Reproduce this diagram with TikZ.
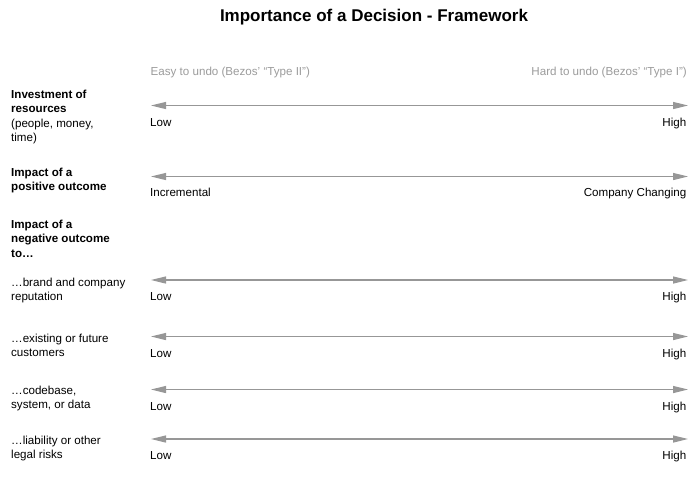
\documentclass[tikz,border=0pt]{standalone}
\usepackage{fontspec}
\setmainfont{Liberation Sans}
\usetikzlibrary{arrows.meta}
\definecolor{scalegray}{HTML}{979797}
\definecolor{headgray}{HTML}{9C9C9C}

\begin{document}
\begin{tikzpicture}[x=1pt, y=-1pt,
  txt/.style={inner sep=0, font=\fontsize{11.6pt}{14.3pt}\selectfont},
  rowlabel/.style={txt, anchor=base west, align=left},
  endlow/.style={txt, anchor=base west},
  endhigh/.style={txt, anchor=base east},
  scalearrow/.style={scalegray, line width=1.2pt,
    {Triangle[length=15pt,width=7pt]}-{Triangle[length=15pt,width=7pt]}}]
\fill [color=white] (0, 0) rectangle (700, 480);
\useasboundingbox (0, 0) rectangle (700, 480);

% title and column heads
\node (title) at (374, 21.5) [anchor=base, inner sep=0, font=\fontsize{17pt}{20pt}\selectfont\bfseries] {Importance of a Decision - Framework};
\node (easy) at (150.5, 75) [txt, anchor=base west, text=headgray] {Easy to undo (Bezos' “Type II”)};
\node (hard) at (687, 75) [txt, anchor=base east, text=headgray] {Hard to undo (Bezos' “Type I”)};

% row labels (base = last line)
\node (invest) at (11, 141.5) [rowlabel] {\textbf{Investment of}\\\textbf{resources}\\(people, money,\\time)};
\node (positive) at (11, 190.5) [rowlabel] {\textbf{Impact of a}\\\textbf{positive outcome}};
\node (negative) at (11, 257) [rowlabel] {\textbf{Impact of a}\\\textbf{negative outcome}\\\textbf{to…}};
\node (brand) at (11, 300.5) [rowlabel] {…brand and company\\reputation};
\node (customers) at (11, 356.5) [rowlabel] {…existing or future\\customers};
\node (codebase) at (11, 408.5) [rowlabel] {…codebase,\\system, or data};
\node (legal) at (11, 458.5) [rowlabel] {…liability or other\\legal risks};

% scale ends
\coordinate (investL) at (151, 105.5);
\coordinate (investR) at (688, 105.5);
\coordinate (positiveL) at (151, 176.5);
\coordinate (positiveR) at (688, 176.5);
\coordinate (brandL) at (151, 280);
\coordinate (brandR) at (688, 280);
\coordinate (customersL) at (151, 336.5);
\coordinate (customersR) at (688, 336.5);
\coordinate (codebaseL) at (151, 389.5);
\coordinate (codebaseR) at (688, 389.5);
\coordinate (legalL) at (151, 439);
\coordinate (legalR) at (688, 439);

\draw [scalearrow] (investL) -- (investR);
\draw [scalearrow] (positiveL) -- (positiveR);
\draw [scalearrow] (brandL) -- (brandR);
\draw [scalearrow] (customersL) -- (customersR);
\draw [scalearrow] (codebaseL) -- (codebaseR);
\draw [scalearrow] (legalL) -- (legalR);

% scale labels
\node (investLow) at (150, 126.5) [endlow] {Low};
\node (investHigh) at (686.5, 126.5) [endhigh] {High};
\node (positiveLow) at (150, 196.5) [endlow] {Incremental};
\node (positiveHigh) at (686.5, 196.5) [endhigh] {Company Changing};
\node (brandLow) at (150, 300.5) [endlow] {Low};
\node (brandHigh) at (686.5, 300.5) [endhigh] {High};
\node (customersLow) at (150, 357) [endlow] {Low};
\node (customersHigh) at (686.5, 357) [endhigh] {High};
\node (codebaseLow) at (150, 410.5) [endlow] {Low};
\node (codebaseHigh) at (686.5, 410.5) [endhigh] {High};
\node (legalLow) at (150, 459.5) [endlow] {Low};
\node (legalHigh) at (686.5, 459.5) [endhigh] {High};
\end{tikzpicture}
\end{document}
